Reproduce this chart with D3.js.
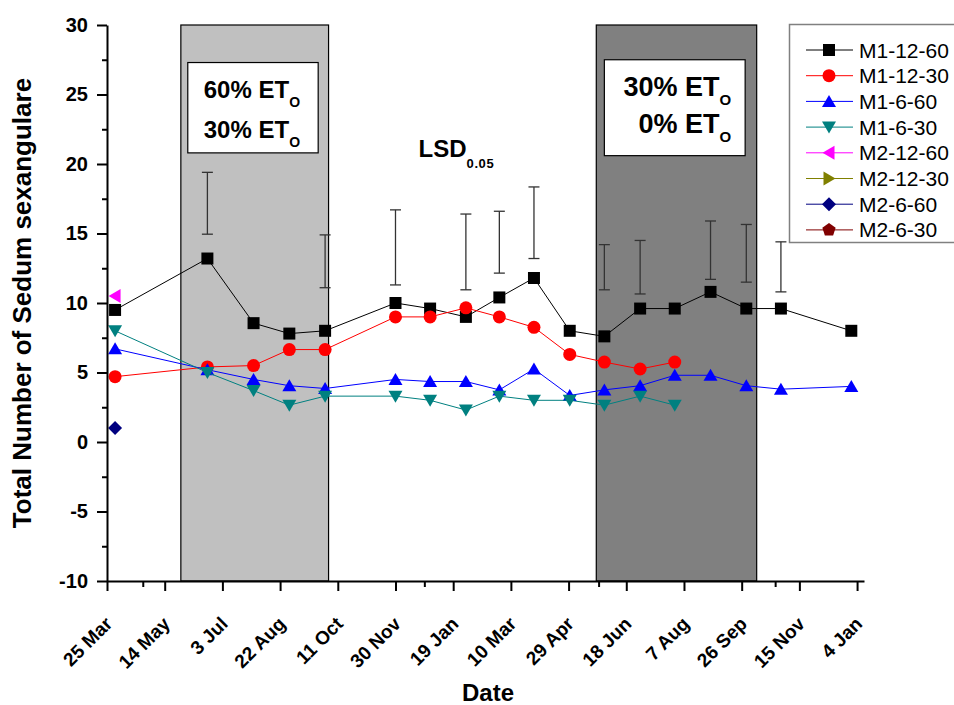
<!DOCTYPE html>
<html>
<head>
<meta charset="utf-8">
<script src="https://cdn.jsdelivr.net/npm/d3@7"></script>
<style>
  body { margin: 0; background: #fff; }
  svg { display: block; font-family: Arial, 'Liberation Sans', sans-serif; }
</style>
</head>
<body>
<div id="chart"></div>
<script>
const parseDate = d3.utcParse('%Y-%m-%d');

// sampling dates (month ends)
const sampleDates = ['2009-04-01', '2009-06-20', '2009-07-30', '2009-08-30', '2009-09-30', '2009-11-30',
    '2009-12-30', '2010-01-30', '2010-02-28', '2010-03-30', '2010-04-30', '2010-05-30',
    '2010-06-30', '2010-07-30', '2010-08-30', '2010-09-30', '2010-10-30', '2010-12-30'];

const seriesNames = ['M1-12-60', 'M1-12-30', 'M1-6-60', 'M1-6-30', 'M2-12-60', 'M2-12-30', 'M2-6-60', 'M2-6-30'];

const m1_12_60 = [9.5, 13.2, 8.55, 7.8, 8.0, 10.0, 9.6, 9.0, 10.4, 11.8, 8.0, 7.6, 9.6, 9.6, 10.8, 9.6, 9.6, 8.0];
const m1_12_30 = [4.7, 5.4, 5.5, 6.65, 6.65, 9.0, 9.0, 9.65, 9.0, 8.25, 6.3, 5.75, 5.25, 5.75, null, null, null, null];
const m1_6_60 = [6.7, 5.2, 4.5, 4.05, 3.85, 4.5, 4.35, 4.35, 3.75, 5.25, 3.35, 3.75, 4.05, 4.8, 4.8, 4.05, 3.8, 4.0];
const m1_6_30 = [8.0, 5.0, 3.7, 2.65, 3.3, 3.3, 3.0, 2.3, 3.3, 3.0, 3.0, 2.65, 3.3, 2.65, null, null, null, null];
const m2_12_60 = [10.5, null, null, null, null, null, null, null, null, null, null, null, null, null, null, null, null, null];
const m2_12_30 = [null, null, null, null, null, null, null, null, null, null, null, null, null, null, null, null, null, null];
const m2_6_60 = [1.0, null, null, null, null, null, null, null, null, null, null, null, null, null, null, null, null, null];
const m2_6_30 = [null, null, null, null, null, null, null, null, null, null, null, null, null, null, null, null, null, null];

const seriesValues = [m1_12_60, m1_12_30, m1_6_60, m1_6_30, m2_12_60, m2_12_30, m2_6_60, m2_6_30];

// LSD 0.05 bars
const lsdDates = ['2009-06-20', '2009-09-30', '2009-11-30', '2010-01-30', '2010-02-28', '2010-03-30',
    '2010-05-30', '2010-06-30', '2010-08-30', '2010-09-30', '2010-10-30'];
const lsdLow = [14.95, 11.1, 11.3, 10.95, 12.15, 13.2, 10.95, 10.65, 11.7, 11.5, 10.8];
const lsdHigh = [19.4, 14.9, 16.7, 16.4, 16.6, 18.35, 14.2, 14.5, 15.9, 15.65, 14.4];

// irrigation periods
const periodStart = ['2009-05-28', '2010-05-23'];
const periodEnd = ['2009-10-03', '2010-10-09'];
const periodLines = [['60% ET', '30% ET'], ['30% ET', '0% ET']];
const boxStart = ['2009-06-03', '2010-05-30'];
const boxEnd = ['2009-09-24', '2010-09-29'];
const boxTop = [27.3, 27.5];
const boxBottom = [20.8, 20.6];

const xTicks = ['2009-03-25', '2009-05-14', '2009-07-03', '2009-08-22', '2009-10-11', '2009-11-30', '2010-01-19',
    '2010-03-10', '2010-04-29', '2010-06-18', '2010-08-07', '2010-09-26', '2010-11-15', '2011-01-04'];
const xMinorTicks = ['2009-04-25', '2009-12-25', '2010-05-25', '2010-10-25'];
const yTicks = [-10, -5, 0, 5, 10, 15, 20, 25, 30];
const yMinorTicks = [-7.5, -2.5, 2.5, 7.5, 12.5, 17.5, 22.5, 27.5];

const seriesColors = ['#000000', '#ff0000', '#0000ff', '#008080', '#ff00ff', '#808000', '#000080', '#800000'];
const seriesShapes = ['square', 'circle', 'triUp', 'triDown', 'triLeft', 'triRight', 'diamond', 'pentagon'];
const periodFills = ['#c0c0c0', '#808080'];

const width = 954;
const height = 705;
const margin = { top: 25, right: 90, bottom: 124, left: 107 };

const svg = d3.select('#chart')
    .append('svg')
    .attr('width', width)
    .attr('height', height);

const x = d3.scaleUtc()
    .domain([parseDate('2009-03-25'), parseDate('2011-01-10')])
    .range([margin.left, width - margin.right]);

const y = d3.scaleLinear()
    .domain([-10, 30])
    .range([height - margin.bottom, margin.top]);

function markerPath(shape) {
    const poly = pts => d3.line()(pts) + 'Z';
    if (shape === 'square') return poly([[-6, -6], [6, -6], [6, 6], [-6, 6]]);
    if (shape === 'circle') {
        const p = d3.path();
        p.arc(0, 0, 6.5, 0, 2 * Math.PI);
        p.closePath();
        return p.toString();
    }
    if (shape === 'triUp') return poly([[0, -6.5], [7, 5.5], [-7, 5.5]]);
    if (shape === 'triDown') return poly([[0, 6.5], [7, -5.5], [-7, -5.5]]);
    if (shape === 'triLeft') return poly([[-6.5, 0], [5.5, -7], [5.5, 7]]);
    if (shape === 'triRight') return poly([[6.5, 0], [-5.5, -7], [-5.5, 7]]);
    if (shape === 'diamond') return poly([[0, -7], [7, 0], [0, 7], [-7, 0]]);
    if (shape === 'pentagon') {
        return poly(d3.range(5).map(i => {
            const a = -Math.PI / 2 + i * 2 * Math.PI / 5;
            return [7 * Math.cos(a), 7 * Math.sin(a)];
        }));
    }
}

// shaded periods
svg.append('g')
    .selectAll('rect')
    .data(periodStart)
    .join('rect')
    .attr('x', (d, i) => x(parseDate(d)))
    .attr('y', y(30))
    .attr('width', (d, i) => x(parseDate(periodEnd[i])) - x(parseDate(d)))
    .attr('height', y(-10) - y(30))
    .attr('fill', (d, i) => periodFills[i])
    .attr('stroke', '#000')
    .attr('stroke-width', 1.2);

// labelled boxes (the second one uses bigger, right aligned text)
periodLines.forEach((lines, i) => {
    const bx0 = x(parseDate(boxStart[i]));
    const bx1 = x(parseDate(boxEnd[i]));
    const by0 = y(boxTop[i]);
    const by1 = y(boxBottom[i]);
    svg.append('rect')
        .attr('x', bx0).attr('y', by0)
        .attr('width', bx1 - bx0).attr('height', by1 - by0)
        .attr('fill', '#fff').attr('stroke', '#000').attr('stroke-width', 1.2);
    lines.forEach((txt, j) => {
        const t = svg.append('text')
            .attr('x', i === 0 ? bx0 + 16 : bx1 - 14)
            .attr('y', i === 0 ? by0 + 35 + j * 40.6 : by0 + 36.4 + j * 36.6)
            .attr('text-anchor', i === 0 ? 'start' : 'end')
            .attr('font-size', i === 0 ? 24 : 27)
            .attr('font-weight', 'bold');
        t.append('tspan').text(txt);
        t.append('tspan').attr('dy', 9).attr('font-size', i === 0 ? 14 : 15).text('O');
    });
});

// LSD label
const lsd = svg.append('text')
    .attr('x', x(parseDate('2009-12-20')))
    .attr('y', y(20.5))
    .attr('font-size', 24)
    .attr('font-weight', 'bold');
lsd.append('tspan').text('LSD');
lsd.append('tspan').attr('dy', 11).attr('font-size', 13).attr('letter-spacing', 0.6).text('0.05');

// LSD bars
const bars = svg.append('g')
    .attr('stroke', '#333')
    .attr('stroke-width', 1.3);
lsdDates.forEach((d, i) => {
    const bx = x(parseDate(d));
    bars.append('line').attr('x1', bx).attr('x2', bx).attr('y1', y(lsdLow[i])).attr('y2', y(lsdHigh[i]));
    bars.append('line').attr('x1', bx - 5.5).attr('x2', bx + 5.5).attr('y1', y(lsdLow[i])).attr('y2', y(lsdLow[i]));
    bars.append('line').attr('x1', bx - 5.5).attr('x2', bx + 5.5).attr('y1', y(lsdHigh[i])).attr('y2', y(lsdHigh[i]));
});

// series
const line = d3.line()
    .defined(d => d.v != null)
    .x(d => x(d.date))
    .y(d => y(d.v));

seriesValues.forEach((vals, k) => {
    const pts = vals.map((v, i) => ({ date: parseDate(sampleDates[i]), v: v }));
    const g = svg.append('g');
    g.append('path')
        .attr('d', line(pts))
        .attr('fill', 'none')
        .attr('stroke', seriesColors[k])
        .attr('stroke-width', 1);
    g.selectAll('path.mk')
        .data(pts.filter(d => d.v != null))
        .join('path')
        .attr('class', 'mk')
        .attr('d', markerPath(seriesShapes[k]))
        .attr('transform', d => `translate(${x(d.date)},${y(d.v)})`)
        .attr('fill', seriesColors[k]);
});

// axes
function yAxis(g) {
    g.attr('transform', `translate(${margin.left},0)`)
        .call(d3.axisLeft(y).tickValues(yTicks).tickSize(10).tickPadding(9).tickSizeOuter(0)
            .tickFormat(d => String(d)))
        .attr('font-size', 20)
        .attr('font-weight', 'bold')
        .attr('font-family', null);
    g.selectAll('line, path').attr('stroke', '#000').attr('stroke-width', 2);
    g.selectAll('text').attr('fill', '#000');
}

function yMinor(g) {
    g.attr('transform', `translate(${margin.left},0)`)
        .call(d3.axisLeft(y).tickValues(yMinorTicks).tickSize(5).tickFormat('').tickSizeOuter(0));
    g.select('.domain').remove();
    g.selectAll('line').attr('stroke', '#000').attr('stroke-width', 2);
}

function xAxis(g) {
    g.attr('transform', `translate(0,${height - margin.bottom})`)
        .call(d3.axisBottom(x).tickValues(xTicks.map(parseDate)).tickSize(10)
            .tickFormat(d3.utcFormat('%-d %b')).tickSizeOuter(0))
        .attr('font-size', 19)
        .attr('font-weight', 'bold')
        .attr('font-family', null);
    g.selectAll('line, path').attr('stroke', '#000').attr('stroke-width', 2);
    g.selectAll('text')
        .attr('fill', '#000')
        .attr('x', 0).attr('y', 0).attr('dy', 0)
        .attr('text-anchor', 'end')
        .attr('transform', 'translate(6,44) rotate(-45)');
}

function xMinor(g) {
    g.attr('transform', `translate(0,${height - margin.bottom})`)
        .call(d3.axisBottom(x).tickValues(xMinorTicks.map(parseDate)).tickSize(6).tickFormat('').tickSizeOuter(0));
    g.select('.domain').remove();
    g.selectAll('line').attr('stroke', '#000').attr('stroke-width', 2);
}

svg.append('g').call(xMinor);
svg.append('g').call(yMinor);
svg.append('g').call(xAxis);
svg.append('g').call(yAxis);

// axis titles
svg.append('text')
    .attr('transform', `translate(31,${(y(30) + y(-10)) / 2}) rotate(-90)`)
    .attr('text-anchor', 'middle')
    .attr('font-size', 26)
    .attr('font-weight', 'bold')
    .text('Total Number of Sedum sexangulare');

svg.append('text')
    .attr('x', 488)
    .attr('y', 701)
    .attr('text-anchor', 'middle')
    .attr('font-size', 24)
    .attr('font-weight', 'bold')
    .text('Date');

// legend
const legend = svg.append('g');
legend.append('rect')
    .attr('x', 789.5).attr('y', 24.5)
    .attr('width', 200).attr('height', 218)
    .attr('fill', '#fff')
    .attr('stroke', '#808080')
    .attr('stroke-width', 1.5);

seriesNames.forEach((name, k) => {
    const ly = 50 + k * 25.7;
    legend.append('line')
        .attr('x1', 806).attr('x2', 853).attr('y1', ly).attr('y2', ly)
        .attr('stroke', seriesColors[k]).attr('stroke-width', 1);
    legend.append('path')
        .attr('d', markerPath(seriesShapes[k]))
        .attr('transform', `translate(829,${ly})`)
        .attr('fill', seriesColors[k]);
    legend.append('text')
        .attr('x', 859).attr('y', ly + 7.5)
        .attr('font-size', 21)
        .text(name);
});
</script>
</body>
</html>
